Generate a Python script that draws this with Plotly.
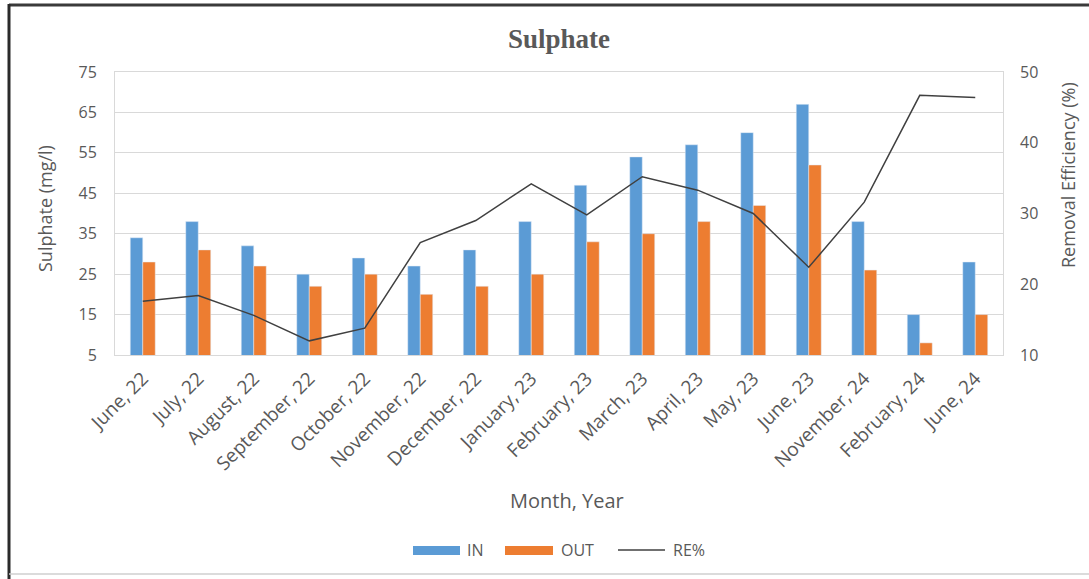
import plotly.graph_objects as go

months = ["June, 22", "July, 22", "August, 22", "September, 22", "October, 22",
          "November, 22", "December, 22", "January, 23", "February, 23", "March, 23",
          "April, 23", "May, 23", "June, 23", "November, 24", "February, 24", "June, 24"]
sulphate_in = [34, 38, 32, 25, 29, 27, 31, 38, 47, 54, 57, 60, 67, 38, 15, 28]
sulphate_out = [28, 31, 27, 22, 25, 20, 22, 25, 33, 35, 38, 42, 52, 26, 8, 15]
re_pct = [17.6, 18.4, 15.6, 12.0, 13.8, 25.9, 29.0, 34.2, 29.8, 35.2, 33.3, 30.0, 22.4, 31.6, 46.7, 46.4]

left_ticks = [5, 15, 25, 35, 45, 55, 65, 75]
right_ticks = [10, 20, 30, 40, 50]

BLUE = "#5B9BD5"
ORANGE = "#ED7D31"
LINE = "#404040"
GRAY_TXT = "#595959"
GRID = "#D9D9D9"
FONT = "Open Sans"

W, H = 1089, 579
L, R, T, B = 115, 1003, 72, 355  # plot area in pixels


def px(x):
    return (x - L) / (R - L)


def py(y):
    return (B - y) / (B - T)


fig = go.Figure()
fig.add_trace(go.Bar(x=months, y=sulphate_in, name="IN", marker_color=BLUE, showlegend=False))
fig.add_trace(go.Bar(x=months, y=sulphate_out, name="OUT", marker_color=ORANGE, showlegend=False))
fig.add_trace(go.Scatter(x=months, y=re_pct, name="RE%", mode="lines", yaxis="y2",
                         line=dict(color=LINE, width=1.5), showlegend=False))

shapes = []
annotations = []

# outer frame
shapes.append(dict(type="line", xref="paper", yref="paper", x0=px(9), x1=px(1089), y0=py(5), y1=py(5),
                   line=dict(color="#3a3a3a", width=3)))
shapes.append(dict(type="line", xref="paper", yref="paper", x0=px(9), x1=px(9), y0=py(4), y1=py(579),
                   line=dict(color="#2a2a2a", width=3)))
shapes.append(dict(type="line", xref="paper", yref="paper", x0=px(9), x1=px(1089), y0=py(574), y1=py(574),
                   line=dict(color="#cfcfcf", width=1.5)))

# custom legend
leg_y = 550
shapes.append(dict(type="rect", xref="paper", yref="paper", x0=px(413), x1=px(460), y0=py(546), y1=py(555),
                   fillcolor=BLUE, line=dict(width=0)))
shapes.append(dict(type="rect", xref="paper", yref="paper", x0=px(505), x1=px(553), y0=py(546), y1=py(555),
                   fillcolor=ORANGE, line=dict(width=0)))
shapes.append(dict(type="line", xref="paper", yref="paper", x0=px(618), x1=px(665), y0=py(leg_y), y1=py(leg_y),
                   line=dict(color=LINE, width=1.5)))
for txt, x in [("IN", 465), ("OUT", 559), ("RE%", 671)]:
    annotations.append(dict(text=txt, xref="paper", yref="paper", x=px(x), y=py(leg_y), xanchor="left",
                            yanchor="middle", showarrow=False, font=dict(family=FONT, size=16, color=GRAY_TXT)))

# axis titles
annotations.append(dict(text="Sulphate (mg/l)", xref="paper", yref="paper", x=px(45), y=py(209),
                        textangle=-90, showarrow=False, xanchor="center", yanchor="middle",
                        font=dict(family=FONT, size=18, color=GRAY_TXT)))
annotations.append(dict(text="Removal Efficiency (%)", xref="paper", yref="paper", x=px(1068), y=py(175),
                        textangle=-90, showarrow=False, xanchor="center", yanchor="middle",
                        font=dict(family=FONT, size=18, color=GRAY_TXT)))
annotations.append(dict(text="Month, Year", xref="paper", yref="paper", x=px(567), y=py(500),
                        showarrow=False, xanchor="center", yanchor="middle",
                        font=dict(family=FONT, size=20, color=GRAY_TXT)))

fig.update_layout(
    width=W, height=H,
    margin=dict(l=L, r=W - R, t=T, b=H - B, pad=0),
    paper_bgcolor="white", plot_bgcolor="white",
    title=dict(text="<b>Sulphate</b>", x=559 / W, xanchor="center", y=1 - 39 / H, yanchor="middle",
               font=dict(family="Liberation Serif", size=27, color=GRAY_TXT)),
    barmode="group", bargap=0.55, bargroupgap=0,
    xaxis=dict(type="category", tickangle=-45, showgrid=False, showline=True, linecolor=GRID,
               mirror=True, ticks="", ticklabelstandoff=4,
               tickfont=dict(family=FONT, size=19, color=GRAY_TXT)),
    yaxis=dict(range=[5, 75], tickvals=left_ticks, showgrid=True, gridcolor=GRID, zeroline=False,
               showline=True, linecolor=GRID, mirror=True, ticks="", ticklabelstandoff=14,
               tickfont=dict(family=FONT, size=16, color=GRAY_TXT)),
    yaxis2=dict(range=[10, 50], tickvals=right_ticks, overlaying="y", side="right", showgrid=False,
                zeroline=False, showline=False, ticks="", ticklabelstandoff=16,
                tickfont=dict(family=FONT, size=16, color=GRAY_TXT)),
    shapes=shapes, annotations=annotations,
)

fig.write_html("out.html")
